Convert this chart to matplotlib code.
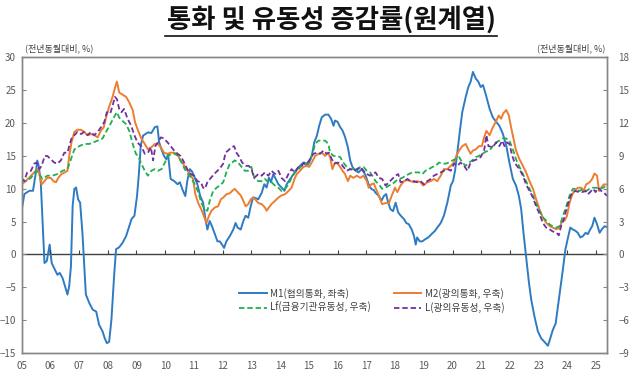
import numpy as np
import matplotlib
matplotlib.use("Agg")
import matplotlib.pyplot as plt
from matplotlib.lines import Line2D

plt.rcParams['font.family'] = ['Noto Sans CJK KR', 'DejaVu Sans']

# M1 (left axis, %)
m1_t = [2005.0, 2005.1, 2005.27, 2005.4, 2005.5, 2005.55, 2005.6, 2005.67, 2005.77, 2005.8,
        2005.88, 2005.98, 2006.05, 2006.16, 2006.25, 2006.33, 2006.43, 2006.55, 2006.6, 2006.66,
        2006.72, 2006.78, 2006.84, 2006.9, 2006.97, 2007.04, 2007.12, 2007.18, 2007.24, 2007.36,
        2007.48, 2007.6, 2007.7, 2007.82, 2007.9, 2007.97, 2008.05, 2008.13, 2008.23, 2008.29,
        2008.4, 2008.52, 2008.64, 2008.75, 2008.83, 2008.93, 2009.02, 2009.08, 2009.15, 2009.23,
        2009.4, 2009.52, 2009.64, 2009.73, 2009.79, 2009.87, 2009.96, 2010.04, 2010.1, 2010.19,
        2010.31, 2010.43, 2010.51, 2010.62, 2010.7, 2010.77, 2010.86, 2010.94, 2011.03, 2011.12,
        2011.22, 2011.32, 2011.4, 2011.47, 2011.55, 2011.63, 2011.73, 2011.82, 2011.9, 2011.98,
        2012.05, 2012.13, 2012.25, 2012.37, 2012.45, 2012.52, 2012.63, 2012.72, 2012.8, 2012.89,
        2012.98, 2013.06, 2013.14, 2013.24, 2013.36, 2013.45, 2013.53, 2013.61, 2013.68, 2013.76,
        2013.85, 2013.94, 2014.05, 2014.15, 2014.23, 2014.35, 2014.46, 2014.58, 2014.69, 2014.81,
        2014.93, 2015.01, 2015.1, 2015.19, 2015.28, 2015.36, 2015.45, 2015.57, 2015.68, 2015.77,
        2015.86, 2015.91, 2016.0, 2016.09, 2016.17, 2016.26, 2016.36, 2016.44, 2016.52, 2016.61,
        2016.73, 2016.84, 2016.96, 2017.08, 2017.17, 2017.26, 2017.32, 2017.44, 2017.53, 2017.61,
        2017.69, 2017.76, 2017.84, 2017.93, 2018.02, 2018.11, 2018.2, 2018.31, 2018.39, 2018.48,
        2018.58, 2018.66, 2018.72, 2018.77, 2018.86, 2018.95, 2019.04, 2019.16, 2019.27, 2019.39,
        2019.47, 2019.59, 2019.7, 2019.82, 2019.94, 2020.02, 2020.09, 2020.17, 2020.25, 2020.34,
        2020.46, 2020.55, 2020.63, 2020.71, 2020.81, 2020.9, 2020.98, 2021.06, 2021.15, 2021.29,
        2021.4, 2021.52, 2021.63, 2021.75, 2021.87, 2021.98, 2022.1, 2022.21, 2022.31, 2022.39,
        2022.47, 2022.56, 2022.66, 2022.74, 2022.85, 2022.97, 2023.09, 2023.2, 2023.32, 2023.4,
        2023.49, 2023.59, 2023.67, 2023.75, 2023.84, 2023.93, 2024.02, 2024.1, 2024.19, 2024.28,
        2024.36, 2024.45, 2024.54, 2024.63, 2024.71, 2024.79, 2024.86, 2024.94, 2025.03, 2025.12,
        2025.19, 2025.29, 2025.37]
m1_v = [6.6, 9.2, 9.7, 9.7, 12.5, 14.3, 13.5, 11.0, 1.8, -1.3,
        -1.0, 1.5, -1.3, -2.3, -3.1, -2.8, -3.6, -5.4, -6.1, -4.8,
        -1.8, 7.4, 10.0, 10.2, 8.4, 7.9, 3.3, -1.3, -6.1, -7.4,
        -8.4, -8.7, -10.7, -11.7, -12.8, -13.5, -13.3, -9.9, -2.8, 0.8,
        1.1, 1.8, 2.8, 4.3, 5.4, 5.9, 8.9, 12.0, 16.6, 18.1,
        18.6, 18.5, 19.4, 19.5, 17.1, 16.0, 15.0, 14.5, 15.3, 11.5,
        11.2, 10.7, 11.0, 9.7, 8.9, 11.2, 13.0, 12.6, 11.7, 10.7,
        8.9, 7.9, 5.4, 3.8, 5.1, 4.3, 3.1, 2.0, 2.0, 1.5,
        1.0, 2.0, 2.8, 3.8, 4.8, 4.1, 3.8, 5.1, 5.9, 5.6,
        7.4, 8.7, 8.6, 8.4, 9.4, 10.7, 10.2, 11.7, 11.0, 12.2,
        11.5, 10.7, 10.2, 9.7, 10.7, 11.5, 12.2, 13.0, 13.5, 14.0,
        13.5, 14.0, 15.0, 17.1, 18.1, 19.6, 20.9, 21.3, 21.3, 20.7,
        19.6, 20.4, 20.2, 19.4, 18.9, 17.9, 16.3, 14.3, 13.3, 12.8,
        12.5, 13.0, 12.2, 10.7, 10.0, 9.8, 9.4, 8.9, 8.2, 8.9,
        9.2, 7.9, 6.9, 6.6, 7.9, 6.4, 5.9, 5.4, 4.8, 4.6,
        3.8, 2.8, 1.5, 2.6, 2.0, 2.0, 2.3, 2.6, 3.1, 3.6,
        4.1, 4.8, 5.9, 7.9, 10.5, 11.2, 12.8, 15.6, 18.6, 21.7,
        24.0, 25.5, 26.3, 27.8, 26.8, 26.3, 25.5, 25.8, 24.5, 22.2,
        20.9, 20.2, 19.6, 18.4, 16.6, 14.0, 11.5, 10.5, 8.9, 6.9,
        3.3, -0.3, -4.3, -6.9, -9.4, -11.7, -12.8, -13.3, -13.9, -12.8,
        -11.5, -10.5, -7.9, -5.4, -2.3, 0.8, 2.6, 4.1, 3.8, 3.6,
        3.3, 2.6, 2.8, 3.3, 3.1, 3.8, 4.3, 5.6, 4.6, 3.3,
        3.8, 4.3, 4.2]

# M2 (right axis, %)
m2_t = [2005.0, 2005.15, 2005.33, 2005.5, 2005.56, 2005.62, 2005.7, 2005.79, 2005.9, 2006.02,
        2006.11, 2006.2, 2006.28, 2006.39, 2006.51, 2006.6, 2006.66, 2006.74, 2006.84, 2006.95,
        2007.07, 2007.18, 2007.3, 2007.42, 2007.53, 2007.65, 2007.76, 2007.86, 2007.94, 2008.05,
        2008.17, 2008.25, 2008.32, 2008.4, 2008.52, 2008.64, 2008.75, 2008.87, 2008.95, 2009.06,
        2009.17, 2009.29, 2009.4, 2009.52, 2009.64, 2009.75, 2009.85, 2009.96, 2010.08, 2010.19,
        2010.31, 2010.43, 2010.51, 2010.62, 2010.74, 2010.86, 2010.97, 2011.05, 2011.15, 2011.26,
        2011.36, 2011.44, 2011.52, 2011.61, 2011.73, 2011.84, 2011.94, 2012.02, 2012.13, 2012.25,
        2012.33, 2012.42, 2012.52, 2012.63, 2012.72, 2012.8, 2012.89, 2012.98, 2013.06, 2013.13,
        2013.24, 2013.36, 2013.47, 2013.53, 2013.61, 2013.7, 2013.82, 2013.94, 2014.05, 2014.17,
        2014.29, 2014.4, 2014.5, 2014.58, 2014.69, 2014.81, 2014.93, 2015.01, 2015.1, 2015.22,
        2015.33, 2015.45, 2015.57, 2015.66, 2015.74, 2015.82, 2015.91, 2016.0, 2016.09, 2016.17,
        2016.26, 2016.36, 2016.44, 2016.55, 2016.67, 2016.79, 2016.9, 2017.02, 2017.08, 2017.17,
        2017.26, 2017.32, 2017.44, 2017.55, 2017.67, 2017.79, 2017.88, 2018.0, 2018.08, 2018.19,
        2018.31, 2018.43, 2018.54, 2018.66, 2018.77, 2018.89, 2018.98, 2019.12, 2019.24, 2019.35,
        2019.47, 2019.59, 2019.7, 2019.82, 2019.94, 2020.05, 2020.13, 2020.23, 2020.34, 2020.46,
        2020.55, 2020.63, 2020.71, 2020.81, 2020.92, 2021.02, 2021.1, 2021.18, 2021.29, 2021.4,
        2021.52, 2021.61, 2021.69, 2021.77, 2021.87, 2021.96, 2022.04, 2022.12, 2022.21, 2022.33,
        2022.45, 2022.56, 2022.68, 2022.8, 2022.91, 2023.03, 2023.14, 2023.26, 2023.38, 2023.49,
        2023.61, 2023.73, 2023.82, 2023.9, 2023.98, 2024.07, 2024.17, 2024.25, 2024.36, 2024.48,
        2024.56, 2024.65, 2024.77, 2024.86, 2024.94, 2025.03, 2025.1, 2025.18, 2025.26, 2025.37]
m2_v = [6.4, 6.7, 7.2, 7.65, 7.8, 7.35, 6.4, 6.7, 7.0, 7.0,
        6.7, 6.6, 7.0, 7.35, 7.5, 7.65, 9.0, 10.25, 11.2, 11.4,
        11.4, 11.2, 10.9, 11.0, 10.9, 10.7, 11.3, 11.6, 12.5, 13.5,
        14.4, 15.2, 15.8, 14.8, 14.6, 14.4, 13.9, 13.2, 12.1, 11.3,
        10.6, 10.1, 9.6, 9.8, 10.1, 10.1, 9.8, 9.3, 9.2, 9.3,
        9.3, 9.2, 8.7, 8.3, 7.8, 7.35, 6.9, 5.5, 4.7, 4.1,
        3.4, 2.9, 3.5, 4.0, 4.3, 4.4, 5.05, 5.2, 5.5, 5.6,
        5.8, 6.0, 5.7, 5.4, 4.9, 4.4, 4.6, 5.05, 5.2, 5.05,
        4.7, 4.6, 4.3, 4.0, 4.3, 4.6, 4.9, 5.2, 5.4, 5.5,
        5.8, 6.1, 6.9, 7.35, 7.65, 8.0, 8.1, 8.0, 8.4, 9.0,
        9.2, 9.3, 9.0, 9.3, 8.9, 7.8, 8.4, 8.3, 8.0, 7.65,
        7.35, 6.7, 7.2, 7.0, 7.2, 7.0, 7.2, 6.7, 6.1, 6.4,
        6.5, 6.1, 5.35, 4.6, 4.7, 4.7, 5.35, 6.1, 5.7, 6.3,
        6.7, 6.8, 6.7, 6.6, 6.7, 6.6, 6.3, 6.6, 6.7, 6.9,
        6.7, 7.2, 7.8, 7.8, 8.1, 8.4, 9.0, 9.5, 9.9, 10.1,
        9.6, 9.2, 9.5, 9.6, 9.9, 9.9, 10.7, 11.3, 10.9, 11.6,
        12.2, 12.7, 12.4, 12.9, 13.2, 12.7, 11.6, 10.6, 9.5, 8.7,
        8.1, 7.5, 6.7, 6.0, 5.05, 4.1, 3.4, 2.9, 2.6, 2.45,
        2.3, 2.45, 3.1, 3.1, 3.5, 4.7, 5.5, 5.8, 6.1, 6.1,
        5.8, 6.4, 6.6, 6.9, 7.4, 7.2, 5.8, 6.1, 6.4, 6.4]

# Lf (right axis, %)
lf_t = [2005.0, 2005.15, 2005.33, 2005.5, 2005.58, 2005.73, 2005.9, 2006.08, 2006.25, 2006.43,
        2006.6, 2006.72, 2006.84, 2007.01, 2007.18, 2007.36, 2007.51, 2007.65, 2007.82, 2007.94,
        2008.09, 2008.25, 2008.32, 2008.4, 2008.52, 2008.64, 2008.75, 2008.87, 2008.98, 2009.06,
        2009.17, 2009.29, 2009.4, 2009.52, 2009.64, 2009.75, 2009.87, 2009.99, 2010.1, 2010.22,
        2010.33, 2010.45, 2010.57, 2010.68, 2010.8, 2010.91, 2011.03, 2011.15, 2011.26, 2011.38,
        2011.47, 2011.55, 2011.67, 2011.79, 2011.9, 2012.02, 2012.13, 2012.25, 2012.33, 2012.42,
        2012.54, 2012.66, 2012.77, 2012.89, 2013.0, 2013.1, 2013.24, 2013.36, 2013.47, 2013.59,
        2013.7, 2013.82, 2013.94, 2014.05, 2014.17, 2014.29, 2014.4, 2014.52, 2014.64, 2014.75,
        2014.87, 2014.98, 2015.1, 2015.22, 2015.33, 2015.45, 2015.57, 2015.68, 2015.74, 2015.86,
        2015.97, 2016.09, 2016.2, 2016.32, 2016.44, 2016.55, 2016.67, 2016.79, 2016.9, 2017.02,
        2017.13, 2017.21, 2017.32, 2017.44, 2017.55, 2017.67, 2017.79, 2017.9, 2018.02, 2018.14,
        2018.25, 2018.37, 2018.48, 2018.6, 2018.72, 2018.83, 2018.95, 2019.06, 2019.18, 2019.3,
        2019.41, 2019.53, 2019.65, 2019.76, 2019.88, 2020.0, 2020.11, 2020.23, 2020.34, 2020.46,
        2020.57, 2020.69, 2020.81, 2020.92, 2021.04, 2021.16, 2021.29, 2021.4, 2021.52, 2021.63,
        2021.75, 2021.87, 2021.98, 2022.1, 2022.21, 2022.33, 2022.45, 2022.56, 2022.68, 2022.8,
        2022.91, 2023.03, 2023.14, 2023.26, 2023.38, 2023.49, 2023.61, 2023.73, 2023.84, 2023.96,
        2024.07, 2024.19, 2024.31, 2024.42, 2024.54, 2024.65, 2024.77, 2024.89, 2025.0, 2025.12,
        2025.24, 2025.37]
lf_v = [6.9, 6.7, 7.0, 7.65, 7.5, 6.9, 7.2, 7.2, 7.35, 7.65,
        7.8, 8.7, 9.6, 9.9, 10.1, 10.1, 10.25, 10.4, 10.6, 11.2,
        11.9, 12.7, 13.0, 12.5, 12.2, 11.9, 11.3, 10.1, 9.2, 9.0,
        8.3, 7.65, 7.2, 7.65, 7.8, 7.65, 7.8, 8.4, 9.0, 9.2,
        9.2, 9.0, 8.4, 7.8, 7.35, 7.0, 6.4, 5.7, 4.7, 4.1,
        4.0, 4.9, 5.8, 6.1, 6.3, 6.6, 7.5, 8.3, 8.4, 8.6,
        8.4, 8.0, 7.65, 7.65, 8.0, 7.0, 6.7, 6.7, 6.9, 6.6,
        6.6, 6.3, 6.1, 5.8, 6.0, 6.4, 7.0, 7.5, 7.8, 8.1,
        8.3, 8.4, 9.0, 10.1, 10.4, 10.4, 10.4, 10.1, 9.3, 9.0,
        9.0, 8.9, 8.4, 8.0, 7.8, 7.8, 7.65, 8.0, 8.0, 7.65,
        7.5, 7.2, 6.7, 6.4, 6.0, 6.1, 6.3, 6.4, 6.7, 6.9,
        7.0, 7.2, 7.35, 7.5, 7.5, 7.5, 7.35, 7.65, 7.8, 8.0,
        8.1, 8.4, 8.3, 8.3, 8.4, 8.6, 8.7, 8.9, 8.4, 8.1,
        8.4, 8.6, 8.9, 9.0, 9.2, 9.4, 9.5, 9.9, 10.25, 10.4,
        10.6, 10.6, 10.4, 9.6, 8.7, 8.0, 7.35, 6.7, 6.0, 5.35,
        4.6, 4.0, 3.4, 3.1, 2.75, 2.55, 2.45, 2.6, 3.5, 4.4,
        5.35, 6.0, 6.0, 5.8, 6.0, 5.8, 6.0, 6.1, 6.1, 6.0,
        6.1, 6.3]

# L (right axis, %)
l_t = [2005.0, 2005.09, 2005.2, 2005.33, 2005.44, 2005.53, 2005.62, 2005.7, 2005.81, 2005.9,
       2006.02, 2006.14, 2006.25, 2006.37, 2006.49, 2006.6, 2006.66, 2006.74, 2006.84, 2006.95,
       2007.07, 2007.18, 2007.3, 2007.42, 2007.53, 2007.65, 2007.76, 2007.88, 2007.97, 2008.09,
       2008.17, 2008.25, 2008.32, 2008.4, 2008.48, 2008.57, 2008.69, 2008.81, 2008.93, 2009.04,
       2009.17, 2009.29, 2009.4, 2009.5, 2009.58, 2009.66, 2009.75, 2009.85, 2009.96, 2010.08,
       2010.19, 2010.31, 2010.43, 2010.54, 2010.66, 2010.77, 2010.89, 2011.01, 2011.12, 2011.24,
       2011.32, 2011.38, 2011.47, 2011.59, 2011.7, 2011.82, 2011.94, 2012.02, 2012.1, 2012.19,
       2012.31, 2012.4, 2012.48, 2012.56, 2012.68, 2012.8, 2012.91, 2013.0, 2013.1, 2013.24,
       2013.36, 2013.47, 2013.59, 2013.7, 2013.82, 2013.94, 2014.05, 2014.17, 2014.29, 2014.4,
       2014.52, 2014.64, 2014.75, 2014.84, 2014.93, 2015.04, 2015.16, 2015.28, 2015.39, 2015.51,
       2015.62, 2015.7, 2015.8, 2015.89, 2016.0, 2016.12, 2016.2, 2016.32, 2016.44, 2016.55,
       2016.67, 2016.79, 2016.9, 2017.02, 2017.13, 2017.21, 2017.32, 2017.44, 2017.55, 2017.67,
       2017.79, 2017.9, 2018.02, 2018.11, 2018.19, 2018.31, 2018.43, 2018.54, 2018.66, 2018.77,
       2018.89, 2019.01, 2019.12, 2019.24, 2019.35, 2019.47, 2019.59, 2019.7, 2019.82, 2019.94,
       2020.05, 2020.17, 2020.28, 2020.4, 2020.52, 2020.63, 2020.75, 2020.86, 2020.98, 2021.1,
       2021.18, 2021.25, 2021.4, 2021.52, 2021.63, 2021.73, 2021.81, 2021.89, 2021.98, 2022.08,
       2022.16, 2022.24, 2022.33, 2022.45, 2022.56, 2022.68, 2022.8, 2022.91, 2023.03, 2023.14,
       2023.26, 2023.38, 2023.49, 2023.61, 2023.7, 2023.78, 2023.86, 2023.96, 2024.07, 2024.17,
       2024.28, 2024.4, 2024.51, 2024.63, 2024.71, 2024.79, 2024.89, 2024.98, 2025.06, 2025.18,
       2025.26, 2025.37]
l_v = [7.0, 6.7, 7.5, 7.65, 8.3, 8.4, 7.8, 8.1, 9.0, 9.0,
       8.7, 8.4, 8.3, 8.6, 9.3, 9.3, 9.9, 10.6, 10.9, 11.2,
       11.0, 11.2, 10.9, 11.2, 10.9, 11.2, 11.6, 12.1, 13.0, 12.9,
       13.6, 14.4, 14.2, 13.3, 13.0, 13.3, 12.4, 11.8, 10.9, 10.2,
       9.9, 9.2, 9.3, 9.8, 8.6, 9.9, 10.25, 10.7, 10.6, 10.25,
       9.9, 9.5, 9.2, 9.0, 8.4, 7.8, 7.35, 7.2, 6.7, 6.6,
       6.1, 6.0, 6.6, 7.0, 7.35, 7.65, 8.0, 8.3, 9.3, 9.5,
       9.8, 9.9, 9.3, 9.0, 8.4, 8.1, 8.1, 7.8, 7.0, 7.35,
       7.2, 7.5, 7.2, 7.65, 7.35, 7.65, 7.0, 6.7, 7.35, 7.8,
       7.5, 8.0, 8.1, 8.4, 8.3, 8.7, 9.2, 9.3, 9.2, 9.5,
       9.2, 9.3, 8.7, 8.3, 8.4, 8.3, 8.0, 7.65, 7.8, 7.65,
       7.8, 8.0, 7.65, 7.35, 7.2, 7.35, 7.5, 7.0, 6.9, 6.3,
       6.6, 6.9, 7.2, 7.35, 6.6, 6.7, 6.9, 6.7, 6.7, 6.6,
       6.7, 6.4, 6.7, 6.9, 7.2, 7.35, 7.5, 7.65, 7.8, 7.65,
       8.3, 8.1, 8.4, 8.1, 7.65, 8.4, 8.6, 8.7, 8.9, 9.5,
       10.9, 9.9, 9.8, 10.25, 9.9, 10.4, 9.9, 10.25, 10.1, 9.0,
       8.4, 8.1, 7.8, 7.2, 6.4, 5.8, 5.2, 4.4, 3.7, 2.9,
       2.45, 2.3, 2.1, 2.0, 1.75, 2.6, 3.1, 4.1, 5.05, 5.7,
       5.8, 5.7, 5.7, 5.8, 5.5, 5.7, 6.0, 5.7, 6.1, 5.8,
       5.7, 5.35]

years = list(range(2005, 2026))
year_labels = ["%02d" % (y % 100) for y in years]

TICK_COLOR = "#595959"
SPINE_COLOR = "#868686"

fig = plt.figure(figsize=(6.4, 3.75), dpi=100)
ax = fig.add_axes([0.0336, 0.0587, 0.915, 0.788])
ax2 = ax.twinx()

# Lines
l_m1, = ax.plot(m1_t, m1_v, color="#2E7BC4", lw=1.4, label="M1(협의통화, 좌축)")
l_m2, = ax2.plot(m2_t, m2_v, color="#ED7D31", lw=1.4, label="M2(광의통화, 우축)")
l_lf, = ax2.plot(lf_t, lf_v, color="#1EB04F", lw=1.3, dashes=(3, 1.6),
                 label="Lf(금융기관유동성, 우축)")
l_l, = ax2.plot(l_t, l_v, color="#7030A0", lw=1.3, dashes=(3, 1.6),
                label="L(광의유동성, 우축)")

ax.set_xlim(2005.0, 2025.38)
ax.set_ylim(-15, 30)
ax2.set_ylim(-9, 18)
ax.set_yticks(range(-15, 31, 5))
ax2.set_yticks(range(-9, 19, 3))

# zero line with small year ticks
ax.axhline(0, color="#404040", lw=1.0, zorder=1)
ax.plot(years[1:], [0] * len(years[1:]), ls="none", marker=2, ms=3,
        color="#404040", mew=0.8)

ax.set_xticks(years)
ax.set_xticklabels(year_labels)
ax.tick_params(axis="x", length=0, pad=6, labelsize=7, labelcolor=TICK_COLOR)
ax.tick_params(axis="y", direction="in", length=3, width=0.8, color=SPINE_COLOR,
               labelsize=7, labelcolor=TICK_COLOR, pad=4)
ax2.tick_params(axis="y", direction="in", length=3, width=0.8, color=SPINE_COLOR,
                labelsize=7, labelcolor=TICK_COLOR, pad=8)

for a in (ax, ax2):
    for s in a.spines.values():
        s.set_color(SPINE_COLOR)
        s.set_linewidth(1.0)

# legend
leg = ax2.legend(handles=[l_m1, l_lf, l_m2, l_l], ncol=2, frameon=False,
                 fontsize=7, loc="upper left", bbox_to_anchor=(0.357, 0.25),
                 handlelength=2.8, handletextpad=0.4, columnspacing=2.3,
                 labelspacing=0.35)
for txt in leg.get_texts():
    txt.set_color("#404040")

# unit labels
fig.text(0.039, 0.872, "(전년동월대비, %)", fontsize=6.5, color="#404040",
         ha="left", va="center")
fig.text(0.946, 0.872, "(전년동월대비, %)", fontsize=6.5, color="#404040",
         ha="right", va="center")

# title with underline
fig.text(0.518, 0.948, "통화 및 유동성 증감률(원계열)", fontsize=19,
         fontweight="bold", ha="center", va="center", color="#111111")
fig.add_artist(Line2D([0.258, 0.777], [0.903, 0.903], color="#111111", lw=1.2))

fig.savefig("out.png", dpi=100)
